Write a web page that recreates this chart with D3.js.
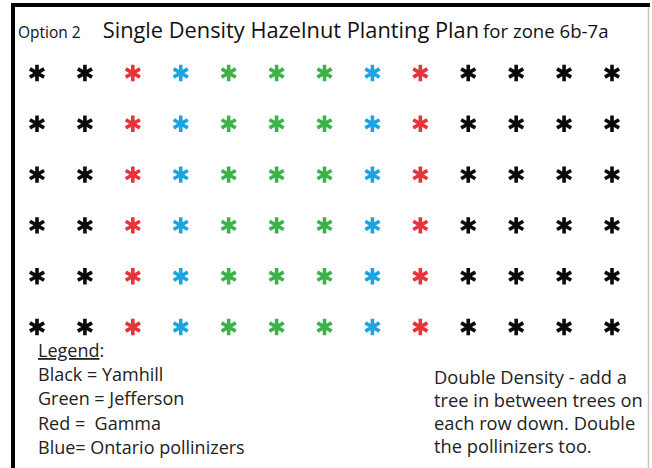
<!DOCTYPE html>
<html>
<head>
<meta charset="utf-8">
<script src="https://cdn.jsdelivr.net/npm/d3@7"></script>
<style>
  body { margin: 0; background: #fff; }
  text { font-family: "Open Sans", "Noto Sans", sans-serif; white-space: pre; }
</style>
</head>
<body>
<div id="chart"></div>
<script>
// planting layout: each row has the same sequence of trees
const rowNames = ["1", "2", "3", "4", "5", "6"];
const positions = ["1", "2", "3", "4", "5", "6", "7", "8", "9", "10", "11", "12", "13"];
const rowPattern = ["Yamhill", "Yamhill", "Gamma", "Ontario", "Jefferson", "Jefferson", "Jefferson",
                    "Ontario", "Gamma", "Yamhill", "Yamhill", "Yamhill", "Yamhill"];

const varieties = ["Yamhill", "Jefferson", "Gamma", "Ontario"];
const varietyColors = ["#0a0a0a", "#3bb34a", "#e8323c", "#1ca4e2"];

const legendLines = ["Black = Yamhill", "Green = Jefferson", "Red =  Gamma", "Blue= Ontario pollinizers"];
const noteLines = ["Double Density - add a", "tree in between trees on", "each row down. Double", "the pollinizers too."];

const width = 652, height = 468;

const svg = d3.select("#chart").append("svg")
    .attr("width", width)
    .attr("height", height);

svg.append("rect").attr("width", width).attr("height", height).attr("fill", "#fff");

// frame: heavy black top and left edges, faint right edge
svg.append("line").attr("x1", 648.5).attr("x2", 648.5).attr("y1", 6).attr("y2", height)
    .attr("stroke", "#c8c8c8").attr("stroke-width", 1.5);
svg.append("rect").attr("x", 11).attr("y", 3).attr("width", 639).attr("height", 4).attr("fill", "#000");
svg.append("rect").attr("x", 11).attr("y", 3).attr("width", 4).attr("height", height).attr("fill", "#000");

// title
const title = svg.append("text").attr("x", 18).attr("y", 38).attr("fill", "#111");
title.append("tspan").attr("font-size", 15.5).text("Option 2");
title.append("tspan").attr("dx", 22).attr("font-size", 21.8).text("Single Density Hazelnut Planting Plan");
title.append("tspan").attr("dx", 4).attr("font-size", 18.6).text("for zone 6b-7a");

// grid of trees
const x = d3.scalePoint().domain(positions).range([37, 612]);
const y = d3.scalePoint().domain(rowNames).range([73, 327]);
const color = d3.scaleOrdinal().domain(varieties).range(varietyColors);

const trees = rowNames.flatMap(r => positions.map((p, i) => ({ row: r, pos: p, variety: rowPattern[i] })));

const star = d3.symbol().type(d3.symbolAsterisk).size(190);

svg.append("g").selectAll("path")
    .data(trees)
    .enter()
    .append("path")
    .attr("transform", d => `translate(${x(d.pos)},${y(d.row)})`)
    .attr("d", star)
    .attr("fill", "none")
    .attr("stroke", d => color(d.variety))
    .attr("stroke-width", 3.6);

// legend
const legendText = svg.append("text").attr("x", 38).attr("y", 357)
    .attr("font-size", 18).attr("fill", "#222");
legendText.append("tspan").attr("text-decoration", "underline").text("Legend");
legendText.append("tspan").text(":");

svg.append("g").selectAll("text")
    .data(legendLines)
    .enter()
    .append("text")
    .attr("x", 38)
    .attr("y", (d, i) => 381 + i * 24.3)
    .attr("font-size", 18)
    .attr("fill", "#222")
    .text(d => d);

// note on the right
svg.append("g").selectAll("text")
    .data(noteLines)
    .enter()
    .append("text")
    .attr("x", 434)
    .attr("y", (d, i) => 384 + i * 23)
    .attr("font-size", 18.3)
    .attr("fill", "#222")
    .text(d => d);
</script>
</body>
</html>
